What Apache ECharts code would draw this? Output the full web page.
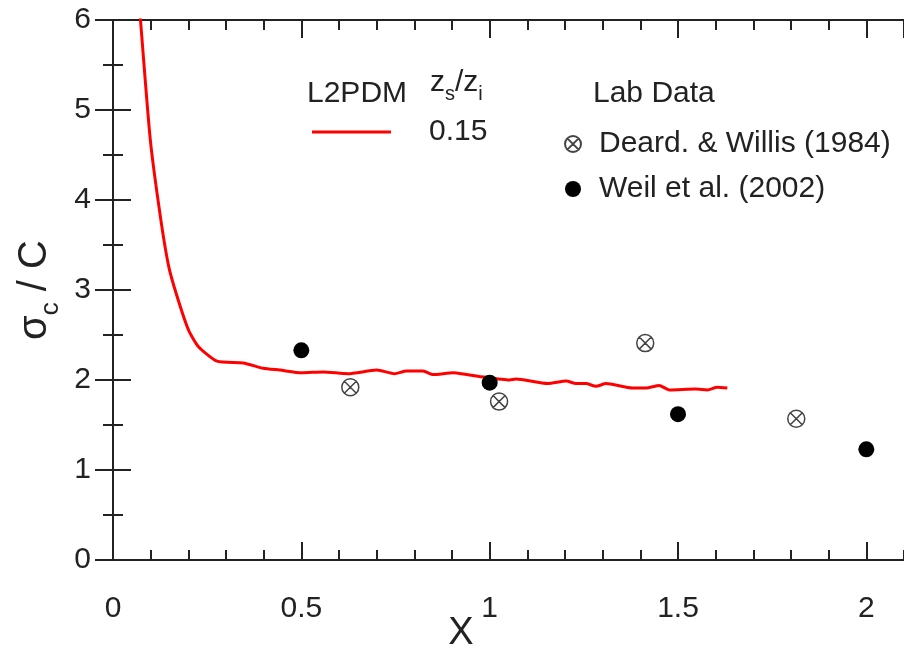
<!DOCTYPE html>
<html>
<head>
<meta charset="utf-8">
<title>sigma_c / C</title>
<script src="https://cdn.jsdelivr.net/npm/echarts@6/dist/echarts.min.js"></script>
<style>
    html, body { margin: 0; padding: 0; background: #ffffff; }
    #main { width: 904px; height: 653px; }
</style>
</head>
<body>
<div id="main"></div>
<script>
// L2PDM curve, z_s/z_i = 0.15
const modelX = [0.063, 0.073, 0.099, 0.126, 0.148, 0.170, 0.200, 0.227, 0.276,
                0.346, 0.399, 0.443, 0.501, 0.558, 0.624, 0.700, 0.748, 0.779, 0.823,
                0.850, 0.903, 0.938, 0.973, 1.053, 1.070, 1.154, 1.203, 1.229, 1.256,
                1.282, 1.309, 1.379, 1.415, 1.450, 1.477, 1.547, 1.578, 1.604, 1.631];
const modelY = [6.55, 6.00, 4.67, 3.81, 3.26, 2.93, 2.56, 2.37, 2.21,
                2.19, 2.13, 2.11, 2.08, 2.09, 2.07, 2.11, 2.07, 2.10, 2.10,
                2.06, 2.08, 2.06, 2.04, 2.00, 2.01, 1.96, 1.99, 1.96, 1.96,
                1.93, 1.96, 1.91, 1.91, 1.94, 1.89, 1.90, 1.89, 1.92, 1.91];

// lab data
const deardX = [0.63, 1.025, 1.413, 1.814];
const deardY = [1.92, 1.76, 2.41, 1.57];
const weilX = [0.5, 1.0, 1.5, 2.0];
const weilY = [2.33, 1.97, 1.62, 1.23];

const xTickLabels = ['0', '0.5', '1', '1.5', '2'];
const yTickLabels = ['0', '1', '2', '3', '4', '5', '6'];

const FONT = 'Liberation Sans, Arial, Helvetica, sans-serif';
const INK = '#222222';

// circle with a cross inside
const CROSS_CIRCLE = 'path://M0,-10A10,10,0,1,1,0,10A10,10,0,1,1,0,-10ZM-7.07,-7.07L7.07,7.07M7.07,-7.07L-7.07,7.07';

function pts(xs, ys) {
    return xs.map(function (x, i) { return [x, ys[i]]; });
}

// x axes: major (0.5) and minor (0.1) ticks drawn by two axes on each side
function xAxisDef(pos, step, tickLen, labels, line) {
    return {
        type: 'value',
        position: pos,
        min: 0,
        max: 2.1,
        interval: step,
        axisLine: { show: line, lineStyle: { color: INK, width: 2 } },
        axisTick: { show: true, inside: true, length: tickLen, lineStyle: { color: INK, width: 2 } },
        splitLine: { show: false },
        axisLabel: {
            show: labels,
            showMaxLabel: false,
            margin: 34,
            color: INK,
            fontSize: 30,
            fontFamily: FONT,
            formatter: function (v, i) { return xTickLabels[i] || ''; }
        }
    };
}

function yAxisDef(pos, labels) {
    return {
        type: 'value',
        position: pos,
        min: 0,
        max: 6,
        interval: 1,
        axisLine: { show: true, lineStyle: { color: INK, width: 2 } },
        axisTick: { show: true, inside: true, length: 18, lineStyle: { color: INK, width: 2 } },
        minorTick: { show: true, splitNumber: 2, length: 10, lineStyle: { color: INK, width: 2 } },
        splitLine: { show: false },
        axisLabel: {
            show: labels,
            margin: 22,
            color: INK,
            fontSize: 30,
            fontFamily: FONT,
            formatter: function (v, i) { return yTickLabels[i]; }
        }
    };
}

let chart = echarts.init(document.getElementById('main'), null, { renderer: 'canvas' });

let yLeft = yAxisDef('left', true);
yLeft.name = '{a|σ}{b|c}{a| / C}';
yLeft.nameLocation = 'middle';
yLeft.nameRotate = 90;
yLeft.nameGap = 44;
yLeft.nameTextStyle = {
    color: INK,
    fontFamily: FONT,
    rich: {
        a: { fontSize: 40, lineHeight: 40, verticalAlign: 'top', fontFamily: FONT, color: INK },
        b: { fontSize: 26, lineHeight: 26, verticalAlign: 'top', padding: [22, 0, 0, 0], fontFamily: FONT, color: INK }
    }
};

var option = {
    backgroundColor: '#ffffff',
    animation: false,
    grid: { left: 113, top: 20, width: 792, height: 540, containLabel: false },
    xAxis: [
        xAxisDef('bottom', 0.5, 18, true, true),
        xAxisDef('bottom', 0.1, 10, false, false),
        xAxisDef('top', 0.5, 18, false, true),
        xAxisDef('top', 0.1, 10, false, false)
    ],
    yAxis: [yLeft, yAxisDef('right', false)],
    legend: [
        {
            // model line, labelled with its z_s/z_i value
            data: ['L2PDM'],
            left: 307,
            top: 112,
            selectedMode: false,
            icon: 'rect',
            itemWidth: 79,
            itemHeight: 3,
            formatter: '0.15',
            textStyle: { fontSize: 30, lineHeight: 30, fontFamily: FONT, color: INK, padding: [0, 0, 0, 33] }
        },
        {
            data: ['Deard. & Willis (1984)', 'Weil et al. (2002)'],
            orient: 'vertical',
            left: 559,
            top: 124,
            itemGap: 15,
            itemWidth: 16,
            itemHeight: 16,
            selectedMode: false,
            textStyle: { fontSize: 30, lineHeight: 30, fontFamily: FONT, color: INK, padding: [0, 0, 0, 13] }
        }
    ],
    graphic: [
        {
            type: 'text', x: 307, y: 94,
            style: { text: 'L2PDM', fontSize: 30, fontFamily: FONT, fill: INK, verticalAlign: 'middle' }
        },
        {
            type: 'text', x: 430, y: 83,
            style: {
                text: '{n|z}{s|s}{n|/z}{s|i}',
                fill: INK,
                verticalAlign: 'middle',
                rich: {
                    n: { fontSize: 30, lineHeight: 30, verticalAlign: 'top', fontFamily: FONT, fill: INK },
                    s: { fontSize: 20, lineHeight: 20, verticalAlign: 'top', padding: [16, 0, 0, 0], fontFamily: FONT, fill: INK }
                }
            }
        },
        {
            type: 'text', x: 593, y: 94,
            style: { text: 'Lab Data', fontSize: 30, fontFamily: FONT, fill: INK, verticalAlign: 'middle' }
        },
        {
            type: 'text', x: 461, y: 634,
            style: { text: 'X', fontSize: 38, fontFamily: FONT, fill: INK, align: 'center', verticalAlign: 'middle' }
        }
    ],
    series: [
        {
            name: 'L2PDM',
            type: 'line',
            data: pts(modelX, modelY),
            showSymbol: false,
            symbol: 'none',
            smooth: 0.2,
            clip: true,
            lineStyle: { color: '#ff0000', width: 3 },
            itemStyle: { color: '#ff0000' },
            emphasis: { disabled: true },
            z: 3
        },
        {
            name: 'Deard. & Willis (1984)',
            type: 'scatter',
            data: pts(deardX, deardY),
            symbol: CROSS_CIRCLE,
            symbolSize: 17,
            itemStyle: { color: 'rgba(0,0,0,0)', borderColor: '#444444', borderWidth: 1.5, opacity: 1 },
            emphasis: { disabled: true },
            z: 4
        },
        {
            name: 'Weil et al. (2002)',
            type: 'scatter',
            data: pts(weilX, weilY),
            symbol: 'circle',
            symbolSize: 16,
            itemStyle: { color: '#000000', opacity: 1 },
            emphasis: { disabled: true },
            z: 4
        }
    ]
};

chart.setOption(option);
</script>
</body>
</html>
